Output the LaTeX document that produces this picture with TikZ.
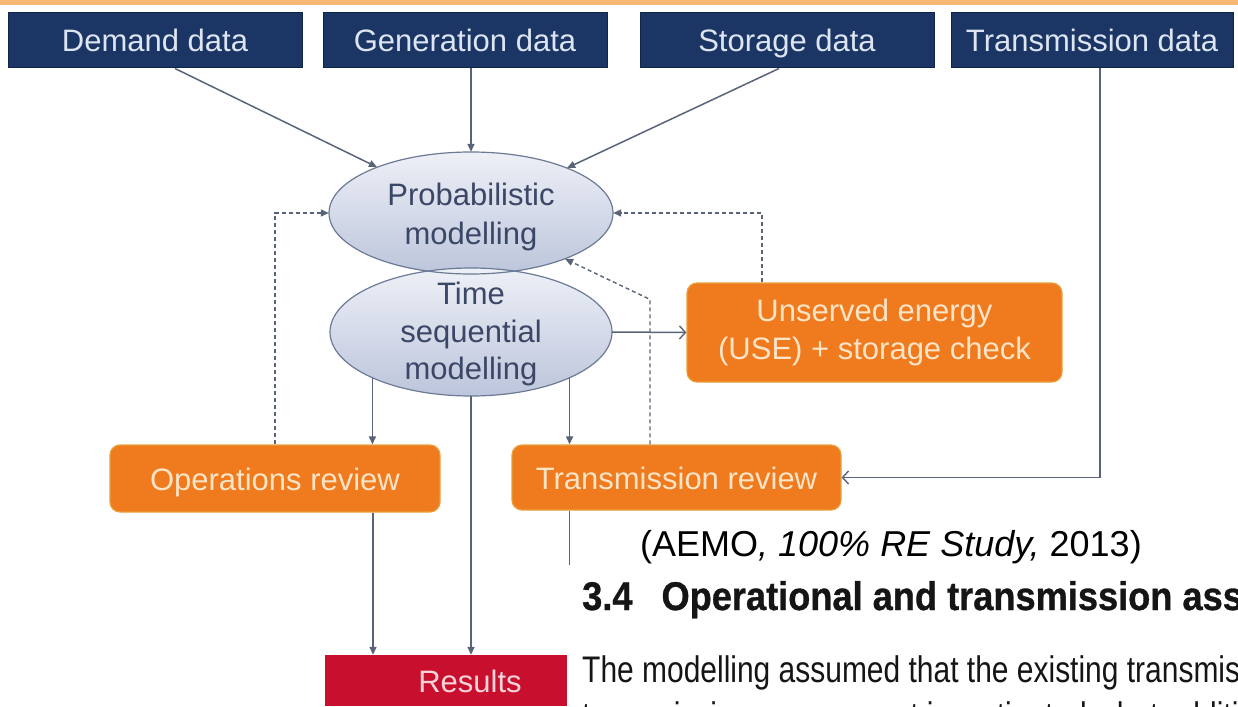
\documentclass[tikz,border=0pt]{standalone}
\usepackage{fontspec}
\setmainfont{Liberation Sans}
\newfontfamily\headfont[FakeStretch=0.905, BoldFeatures={FakeBold=0.8}]{Liberation Sans}
\newfontfamily\bodyfont[FakeStretch=0.81]{Liberation Sans}
\usetikzlibrary{shapes.geometric,arrows.meta}

\definecolor{navy}{HTML}{1B3564}
\definecolor{navyedge}{HTML}{10244A}
\definecolor{navytext}{HTML}{DCE5F1}
\definecolor{ellborder}{HTML}{6C7A96}
\definecolor{elltop}{HTML}{EEF0F7}
\definecolor{ellbottom}{HTML}{BCC5DB}
\definecolor{elltext}{HTML}{3B4766}
\definecolor{orangefill}{HTML}{F07A1E}
\definecolor{orangeedge}{HTML}{E8A03C}
\definecolor{orangetext}{HTML}{FCE4C6}
\definecolor{redfill}{HTML}{C8102E}
\definecolor{redtext}{HTML}{F9D3DA}
\definecolor{linec}{HTML}{5A6478}
\definecolor{stripe}{HTML}{F7B775}
\definecolor{doctext}{HTML}{151515}

\tikzset{
  labelfont/.style={font=\fontsize{31}{38}\selectfont},
  oneline/.style={text height=23pt, text depth=0pt},
  databox/.style={rectangle, draw=navyedge, line width=1pt, fill=navy,
    text=navytext, labelfont, oneline, inner sep=0pt, minimum height=55pt},
  modelell/.style={ellipse, fill=elltop, top color=elltop, bottom color=ellbottom,
    inner sep=0pt},
  elllabel/.style={text=elltext, font=\fontsize{31}{39}\selectfont, align=center},
  reviewbox/.style={rectangle, rounded corners=10pt, draw=orangeedge, line width=1.2pt,
    fill=orangefill, text=orangetext, labelfont, align=center, inner sep=0pt},
  resultbox/.style={rectangle, fill=redfill, text=redtext, labelfont, oneline, inner sep=0pt},
  arr/.style={draw=linec, line width=1.5pt, -{Triangle[length=8pt,width=7pt]}},
  openarr/.style={draw=linec, line width=1.5pt, -{Straight Barb[length=6pt,width=13pt,line width=1.4pt]}},
  dasharr/.style={draw=linec, line width=1.4pt, dash pattern=on 4pt off 3pt,
    -{Triangle[length=8pt,width=7pt]}},
  plainline/.style={draw=linec, line width=1.5pt},
}

\begin{document}
\begin{tikzpicture}[x=1pt,y=-1pt]
\useasboundingbox (0,0) rectangle (1238,706);
\clip (0,0) rectangle (1238,706);
\fill[white] (0,0) rectangle (1238,706);
% thin band along the top edge
\fill[stripe] (0,0) rectangle (1238,5);

% input data boxes
\node[databox, minimum width=294pt] (dem) at (155,40.5) {Demand data};
\node[databox, minimum width=284pt] (gen) at (465,40.5) {Generation data};
\node[databox, minimum width=294pt] (sto) at (787,40.5) {Storage data};
\node[databox, minimum width=282pt] (tra) at (1092,40.5) {Transmission data};

% modelling ellipses
\node[modelell, minimum width=284pt, minimum height=122pt,
  label={[elllabel, yshift=-4pt]center:Probabilistic\\modelling}] (prob) at (471,213) {};
\node[modelell, minimum width=282pt, minimum height=128pt,
  label={[elllabel, yshift=-2pt, font=\fontsize{31}{37.5}\selectfont]center:Time\\sequential\\modelling}] (time) at (471,332) {};
\draw[ellborder, line width=1.2pt] (prob.center) ellipse [x radius=142pt, y radius=61pt];
\draw[ellborder, line width=1.2pt] (time.center) ellipse [x radius=141pt, y radius=64pt];

% review boxes
\node[reviewbox, minimum width=375pt, minimum height=99pt] (use) at (874.5,332.5)
  {Unserved energy\\(USE) + storage check};
\node[reviewbox, oneline, minimum width=330pt, minimum height=67pt] (oper) at (275,478.5)
  {Operations review};
\node[reviewbox, oneline, minimum width=329pt, minimum height=65pt] (trev) at (676.5,477.5)
  {Transmission review};

% results
\node[resultbox, minimum width=290pt, minimum height=51pt] (res) at (470,680.5) {Results};

% data flows into the probabilistic model
\draw[arr] ([xshift=20pt]dem.south) -- (prob);
\draw[arr] (gen.south -| prob.north) -- (prob.north);
\draw[arr] ([xshift=-8pt]sto.south) -- (prob);
\draw[openarr] ([xshift=8pt]tra.south) |- (trev.east);

% outputs of the time sequential model
\draw[openarr] (time.east) -- (use.west);
\draw[arr] (time.205) -- (time.205 |- oper.north);
\draw[arr] (time.-25) -- (time.-25 |- trev.north);
\draw[arr] (time.south) -- (time.south |- res.north);

% feedback loops
\draw[dasharr] (oper.north) |- (prob.west);
\draw[dasharr] ([xshift=-112.5pt]use.north) |- (prob.east);
\draw[dasharr] ([xshift=-26.5pt]trev.north) -- ++(0,-145) -- (prob.-26);

% review results
\draw[arr] ([xshift=98pt]oper.south) -- ([xshift=98pt]oper.south |- res.north);
\draw[plainline] (time.-25 |- trev.south) -- ++(0,80);

% report excerpt laid over the lower right
\fill[white] (567,565) rectangle (1238,706);
\node[anchor=base west, inner sep=0pt, text=black, font=\fontsize{36}{40}\selectfont]
  (cite) at (640,556) {(AEMO\textit{, 100\% RE Study,} 2013)};
\node[anchor=base west, inner sep=0pt, text=doctext, font=\headfont\bfseries\fontsize{40}{46}\selectfont]
  (head) at (582,610) {3.4\hspace{29pt}Operational and transmission ass};
\node[anchor=base west, inner sep=0pt, text=doctext, font=\bodyfont\fontsize{37}{46}\selectfont]
  (para) at (582,682) {The modelling assumed that the existing transmis};
\node[anchor=base west, inner sep=0pt, text=doctext, font=\bodyfont\fontsize{37}{46}\selectfont]
  (para2) at (582,728) {transmission assessment investigated what additi};
\end{tikzpicture}
\end{document}
